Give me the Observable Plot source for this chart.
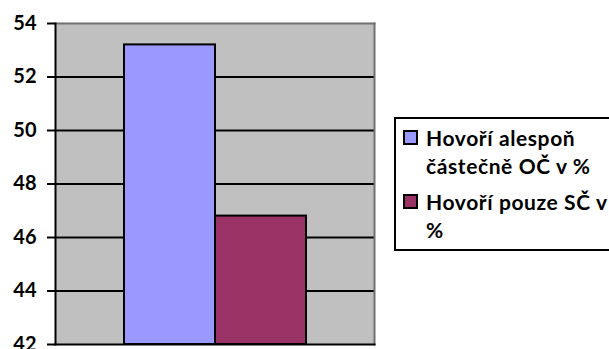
<!DOCTYPE html>
<html>
<head>
<meta charset="utf-8">
<script src="https://cdn.jsdelivr.net/npm/d3@7"></script>
<script src="https://cdn.jsdelivr.net/npm/@observablehq/plot@0.6"></script>
<style>
  html, body { margin: 0; padding: 0; background: #fff; }
  #wrap { position: relative; width: 609px; height: 349px; overflow: hidden; font-family: Lato, "Open Sans", sans-serif; font-weight: bold; }
  #wrap svg { position: absolute; left: 0; top: 0; }
  #wrap svg text { font-weight: bold; }
  .legend { position: absolute; left: 394px; top: 117px; width: 240px; height: 134px; border: 2px solid #000; box-sizing: border-box; background: #fff; padding-top: 5px; font-size: 21px; letter-spacing: 0.6px; line-height: 28px; color: #000; }
  .item { position: relative; padding-left: 30px; margin-bottom: 8px; }
  .swatch { position: absolute; left: 7px; top: 6px; width: 15px; height: 15px; box-sizing: border-box; border: 2px solid #000; }
</style>
</head>
<body>
<div id="wrap"></div>
<script>
// Series shown in the chart
const series = ["Hovoří alespoň částečně OČ v %", "Hovoří pouze SČ v %"];
const values = [53.2, 46.8];
const colors = ["#9999FF", "#993366"];
// Legend labels, broken into lines
const legendLines = [["Hovoří alespoň", "částečně OČ v %"], ["Hovoří pouze SČ v", "%"]];
// Value axis
const yDomain = [42, 54];
const yTicks = [42, 44, 46, 48, 50, 52, 54];
const gridTicks = [44, 46, 48, 50, 52];

const data = series.map((s, i) => ({series: s, value: values[i]}));

const chart = Plot.plot({
  width: 609,
  height: 349,
  marginLeft: 55,
  marginRight: 235,
  marginTop: 23,
  marginBottom: 5,
  style: {fontFamily: "Lato, 'Open Sans', sans-serif", fontWeight: "bold", fontSize: "20px", color: "#000", background: "transparent"},
  x: {type: "band", domain: series, paddingInner: 0, paddingOuter: 0.75, axis: null},
  y: {domain: yDomain, axis: null},
  color: {domain: series, range: colors},
  marks: [
    Plot.frame({fill: "#C0C0C0", stroke: "none"}),
    Plot.ruleY(gridTicks, {stroke: "#000", strokeWidth: 2}),
    Plot.barY(data, {x: "series", y1: yDomain[0], y2: "value", fill: "series", stroke: "#000", strokeWidth: 2}),
    Plot.frame({anchor: "top", stroke: "#707070", strokeWidth: 2}),
    Plot.frame({anchor: "right", stroke: "#707070", strokeWidth: 2}),
    Plot.frame({anchor: "left", stroke: "#000", strokeWidth: 2}),
    Plot.frame({anchor: "bottom", stroke: "#000", strokeWidth: 2}),
    Plot.axisY(yTicks, {label: null, tickSize: 8, tickPadding: 11, strokeWidth: 2, strokeOpacity: 1, stroke: "#000", fill: "#000", fontSize: 20, fontWeight: "bold"})
  ]
});

const wrap = document.getElementById("wrap");
wrap.appendChild(chart);

const legend = document.createElement("div");
legend.className = "legend";
legendLines.forEach((lines, i) => {
  const item = document.createElement("div");
  item.className = "item";
  const sw = document.createElement("div");
  sw.className = "swatch";
  sw.style.background = colors[i];
  item.appendChild(sw);
  lines.forEach(t => {
    const line = document.createElement("div");
    line.textContent = t;
    line.style.whiteSpace = "nowrap";
    item.appendChild(line);
  });
  legend.appendChild(item);
});
wrap.appendChild(legend);
</script>
</body>
</html>
